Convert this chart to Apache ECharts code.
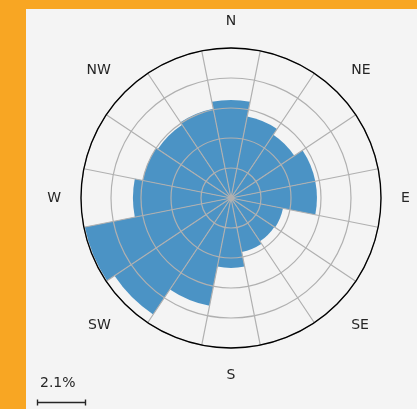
<!DOCTYPE html>
<html>
<head>
<meta charset="utf-8">
<script src="https://cdn.jsdelivr.net/npm/echarts@6/dist/echarts.min.js"></script>
<style>
  html, body { margin: 0; padding: 0; background: #f8a623; }
  #chart { position: absolute; left: 26px; top: 9px; width: 391px; height: 400px; background: #f4f4f4; }
</style>
</head>
<body>
<div id="chart"></div>
<script>
// wind directions, clockwise from north
const directions = ['N', 'NNE', 'NE', 'ENE', 'E', 'ESE', 'SE', 'SSE',
                    'S', 'SSW', 'SW', 'WSW', 'W', 'WNW', 'NW', 'NNW'];
// frequency per direction (%)
const frequency = [4.29, 3.63, 3.33, 3.76, 3.76, 2.32, 2.28, 2.41,
                   3.06, 4.81, 6.13, 6.52, 4.29, 3.94, 3.85, 3.98];
// radial rings (%)
const ringStep = 1.3125;
const ringMax = 6.5625;
// scale bar
const scaleValue = 2.1;
const scaleLabel = '2.1%';

const RADIUS = 150;
const scalePx = scaleValue / ringMax * RADIUS;

const chart = echarts.init(document.getElementById('chart'));

chart.setOption({
    animation: false,
    textStyle: { fontFamily: 'DejaVu Sans' },
    polar: {
        center: [205, 189],
        radius: RADIUS
    },
    angleAxis: {
        type: 'category',
        data: directions,
        startAngle: 90 + 360 / 32,
        clockwise: true,
        z: 11,
        axisLine: { show: true, lineStyle: { color: '#000', width: 1.3 } },
        // ticks hidden, but interval 0 so a spoke is drawn at every sector edge
        axisTick: { show: false, interval: 0 },
        axisLabel: {
            interval: 1,
            margin: 20,
            fontSize: 14,
            color: '#262626'
        },
        splitLine: { show: true, interval: 0, lineStyle: { color: '#b0b0b0', width: 1.2 } }
    },
    radiusAxis: {
        min: 0,
        max: ringMax,
        interval: ringStep,
        z: 10,
        axisLine: { show: false },
        axisTick: { show: false },
        axisLabel: { show: false },
        splitLine: { show: true, lineStyle: { color: '#b0b0b0', width: 1.2 } }
    },
    series: [{
        type: 'bar',
        coordinateSystem: 'polar',
        data: frequency,
        barCategoryGap: '0%',
        itemStyle: { color: '#4b93c5' }
    }],
    graphic: [
        {
            type: 'text',
            left: 14, top: 367,
            style: { text: scaleLabel, fontSize: 14, fill: '#262626', fontFamily: 'DejaVu Sans' }
        },
        {
            type: 'group',
            left: 9, top: 388,
            children: [
                { type: 'line', shape: { x1: 0, y1: 3, x2: scalePx, y2: 3 }, style: { stroke: '#262626', lineWidth: 1.4 } },
                { type: 'line', shape: { x1: 0, y1: 0, x2: 0, y2: 6 }, style: { stroke: '#262626', lineWidth: 1.4 } },
                { type: 'line', shape: { x1: scalePx, y1: 0, x2: scalePx, y2: 6 }, style: { stroke: '#262626', lineWidth: 1.4 } }
            ]
        }
    ]
});
</script>
</body>
</html>
